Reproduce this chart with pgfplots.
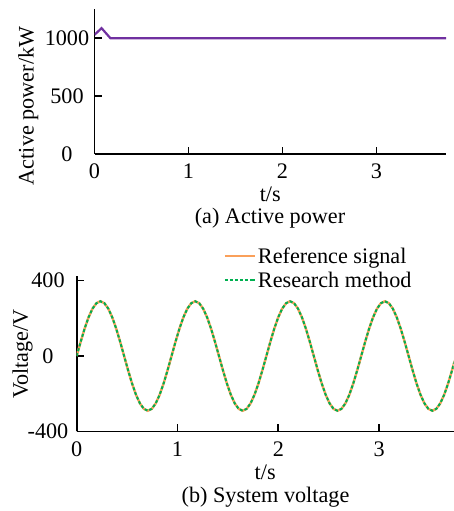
\documentclass[border=0pt]{standalone}
\usepackage{pgfplots}
\pgfplotsset{compat=1.18}
\usepackage{pgfplotstable}
\usepackage{fontspec}
\setmainfont{Liberation Serif}
\definecolor{ppurple}{RGB}{112,48,160}
\definecolor{porange}{RGB}{250,160,90}
\definecolor{pgreen}{RGB}{0,176,80}

\pgfplotstableread{
t v
0 0
0.0392 75
0.0784 145
0.1176 205
0.1568 251
0.196 280
0.2352 290
0.2744 280
0.3136 251
0.3528 205
0.392 145
0.4312 75
0.4704 0
0.5096 -75
0.5488 -145
0.588 -205
0.6272 -251
0.6664 -280
0.7056 -290
0.7448 -280
0.784 -251
0.8232 -205
0.8624 -145
0.9016 -75
0.9408 0
0.98 75
1.0192 145
1.0584 205
1.0976 251
1.1368 280
1.176 290
1.2152 280
1.2544 251
1.2936 205
1.3328 145
1.372 75
1.4112 0
1.4504 -75
1.4896 -145
1.5288 -205
1.568 -251
1.6072 -280
1.6464 -290
1.6856 -280
1.7248 -251
1.764 -205
1.8032 -145
1.8424 -75
1.8816 0
1.9208 75
1.96 145
1.9992 205
2.0384 251
2.0776 280
2.1168 290
2.156 280
2.1952 251
2.2344 205
2.2736 145
2.3128 75
2.352 0
2.3912 -75
2.4304 -145
2.4696 -205
2.5088 -251
2.548 -280
2.5872 -290
2.6264 -280
2.6656 -251
2.7048 -205
2.744 -145
2.7832 -75
2.8224 0
2.8616 75
2.9008 145
2.94 205
2.9792 251
3.0184 280
3.0576 290
3.0968 280
3.136 251
3.1752 205
3.2144 145
3.2536 75
3.2928 0
3.332 -75
3.3712 -145
3.4104 -205
3.4496 -251
3.4888 -280
3.528 -290
3.5672 -280
3.6064 -251
3.6456 -205
3.6848 -145
3.724 -75
3.7632 0
}\voltdata

\pgfplotstableread{
t p
0 1030
0.075 1088
0.17 1000
1.0 1000
2.0 1000
3.0 1000
3.74 1000
}\powerdata

\pgfplotsset{
  mystyle/.style={
    scale only axis,
    axis lines=left,
    axis line style={line width=1.8pt,-},
    tick style={line width=1.8pt, black},
    major tick length=7pt,
    tick align=inside,
    font=\fontsize{22.2}{26}\selectfont,
    xtick={0,1,2,3},
    xticklabels={0,1,2,3},
    xticklabel style={anchor=center, yshift=-17.5pt},
    xlabel={t/s},
    xlabel style={at={(axis description cs:0.5,0)}, anchor=center, yshift=-40.5pt, inner sep=0pt},
  }
}

\begin{document}
\begin{tikzpicture}
\useasboundingbox (0pt,0pt) rectangle (454pt,511pt);
\begin{axis}[mystyle,
  at={(94.5pt,357pt)}, anchor=south west,
  width=351.6pt, height=144.6pt,
  xmin=0, xmax=3.74, ymin=0, ymax=1250,
  ytick={0,500,1000}, yticklabels={0,500,1000},
  yticklabel style={anchor=center, xshift=-27.5pt},
  ylabel={Active power/kW},
  ylabel style={at={(axis description cs:-0.188,0.332)}, anchor=center},
]
\addplot[color=ppurple, line width=2.2pt] table[x=t,y=p] {\powerdata};
\end{axis}
\node[font=\fontsize{22.2}{26}\selectfont, anchor=center, inner sep=0pt] at (270pt,293pt) {(a) Active power};

\begin{axis}[mystyle,
  at={(76.7pt,79.5pt)}, anchor=south west,
  width=377pt, height=155.7pt,
  xmin=0, xmax=3.74, ymin=-400, ymax=425,
  ytick={-400,0,400}, yticklabels={-400,0,400},
  yticklabel style={anchor=center, xshift=-28.7pt},
  ylabel={Voltage/V},
  ylabel style={at={(axis description cs:-0.1438,0.498)}, anchor=center},
  legend style={draw=none, fill=none, at={(axis description cs:0.389,1.195)}, anchor=north west,
    inner sep=0pt, row sep=3.2pt, font=\fontsize{22.2}{26}\selectfont},
  legend cell align=left,
  legend image code/.code={\draw[#1] (0pt,0pt) -- (27pt,0pt); \path (27pt,0pt) -- (30pt,0pt);},
]
\addplot[color=porange, line width=2.4pt] table[x=t,y=v] {\voltdata};
\addlegendentry{Reference signal}
\addplot[color=pgreen, line width=2pt, dash pattern=on 3pt off 2pt] table[x=t,y=v] {\voltdata};
\addlegendentry{Research method}
\end{axis}
\node[font=\fontsize{22.2}{26}\selectfont, anchor=center, inner sep=0pt] at (265.5pt,13.5pt) {(b) System voltage};
\end{tikzpicture}
\end{document}
